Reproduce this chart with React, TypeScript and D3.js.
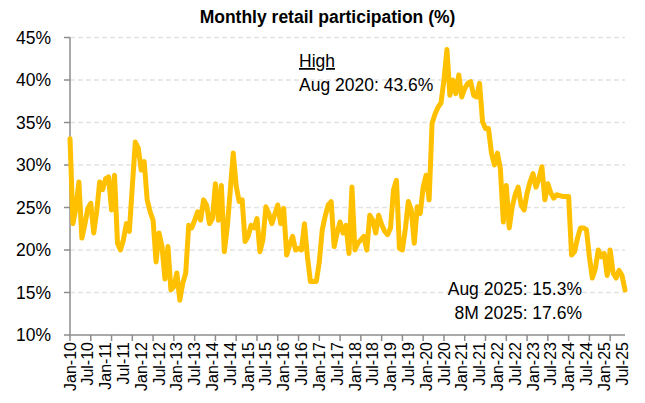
import React from "react";
import * as d3 from "d3";

// Monthly retail participation (%), Jan-2010 .. Aug-2025
const participation = [
  // 2010
  33.1, 23.1, 25.0, 28.0, 21.4, 23.0, 24.9, 25.5, 22.0, 24.5, 28.0, 27.1,
  // 2011
  28.4, 28.6, 24.7, 28.8, 20.8, 20.0, 21.2, 23.1, 22.2, 27.5, 32.7, 32.0,
  // 2012
  29.4, 30.4, 25.9, 24.5, 23.5, 18.6, 22.0, 20.4, 16.6, 20.4, 15.3, 15.7,
  // 2013
  17.3, 14.1, 16.1, 17.3, 22.9, 22.6, 23.5, 24.5, 23.5, 25.9, 25.3, 23.1,
  // 2014
  23.7, 27.8, 23.5, 27.6, 19.8, 22.7, 27.0, 31.4, 27.5, 25.7, 25.9, 21.0,
  // 2015
  21.6, 22.9, 22.6, 23.7, 19.8, 21.2, 25.1, 24.3, 23.1, 24.2, 25.3, 23.1,
  // 2016
  24.9, 19.4, 20.6, 21.6, 20.0, 20.2, 20.0, 23.1, 19.2, 16.3, 16.3, 16.3,
  // 2017
  18.6, 22.4, 24.0, 25.3, 25.7, 20.4, 22.0, 23.3, 22.0, 22.9, 19.6, 27.4,
  // 2018
  20.0, 20.8, 21.2, 21.6, 20.0, 24.1, 23.5, 22.0, 24.1, 23.0, 22.2, 21.8,
  // 2019
  22.6, 27.1, 28.2, 20.2, 20.0, 22.5, 25.7, 24.7, 20.8, 25.1, 24.3, 27.4,
  // 2020
  28.8, 25.9, 34.9, 36.0, 36.8, 37.3, 40.0, 43.6, 38.2, 40.0, 38.4, 40.6,
  // 2021
  38.0, 39.0, 39.6, 39.8, 38.2, 38.0, 39.6, 35.1, 34.3, 34.3, 31.4, 30.0,
  // 2022
  31.4, 29.6, 23.3, 27.6, 22.6, 25.1, 26.5, 27.4, 25.3, 24.7, 26.7, 28.0,
  // 2023
  29.0, 27.4, 28.4, 29.8, 25.9, 27.8, 26.7, 26.1, 26.5, 26.4, 26.3, 26.3,
  // 2024
  26.3, 19.4, 19.8, 21.4, 22.6, 22.6, 22.4, 19.2, 16.7, 17.8, 20.0, 19.2,
  // 2025
  19.6, 17.0, 20.0, 17.3, 16.7, 17.6, 17.0, 15.3,
];

const tickLabels = [
  "Jan-10", "Jul-10", "Jan-11", "Jul-11", "Jan-12", "Jul-12", "Jan-13", "Jul-13",
  "Jan-14", "Jul-14", "Jan-15", "Jul-15", "Jan-16", "Jul-16", "Jan-17", "Jul-17",
  "Jan-18", "Jul-18", "Jan-19", "Jul-19", "Jan-20", "Jul-20", "Jan-21", "Jul-21",
  "Jan-22", "Jul-22", "Jan-23", "Jul-23", "Jan-24", "Jul-24", "Jan-25", "Jul-25",
];

const yTicks = [10, 15, 20, 25, 30, 35, 40, 45];

const highLabel = ["High", "Aug 2020: 43.6%"];
const latestLabel = ["Aug 2025: 15.3%", "8M 2025: 17.6%"];

const font = "'Liberation Sans', Arial, sans-serif";
const axisColor = "#8c8c8c";

export default function App() {
  const width = 645;
  const height = 403;
  const left = 70;
  const right = 625;
  const top = 37.5;
  const bottom = 335;

  const x = d3
    .scaleLinear()
    .domain([0, participation.length - 1])
    .range([left, right]);
  const y = d3.scaleLinear().domain([10, 45]).range([bottom, top]);

  const line = d3
    .line<number>()
    .x((d, i) => x(i))
    .y((d) => y(d));

  // tick marks every 7 months, labels every 6 months
  const tickMarks = d3.range(0, participation.length, 7);

  return (
    <svg
      width={width}
      height={height}
      style={{ position: "fixed", left: 0, top: 0, background: "#fff" }}
      fontFamily={font}
    >
      <text
        x={327.5}
        y={23}
        textAnchor="middle"
        fontSize={17.5}
        fontWeight="bold"
      >
        Monthly retail participation (%)
      </text>

      {/* gridlines */}
      {yTicks.slice(1).map((t) => (
        <line
          key={"g" + t}
          x1={left}
          x2={right}
          y1={y(t)}
          y2={y(t)}
          stroke="#e3e3e3"
          strokeWidth={1.3}
          strokeDasharray="5 3"
        />
      ))}

      {/* y axis */}
      <line x1={left} x2={left} y1={top} y2={bottom} stroke={axisColor} strokeWidth={1.5} />
      {yTicks.map((t) => (
        <g key={"y" + t}>
          <line x1={left - 6} x2={left} y1={y(t)} y2={y(t)} stroke={axisColor} strokeWidth={1.5} />
          <text x={51} y={y(t)} dy="0.35em" textAnchor="end" fontSize={17.5}>
            {t}%
          </text>
        </g>
      ))}

      {/* x axis */}
      <line x1={left} x2={right} y1={bottom} y2={bottom} stroke={axisColor} strokeWidth={1.5} />
      {tickMarks.map((i) => (
        <line
          key={"t" + i}
          x1={x(i)}
          x2={x(i)}
          y1={bottom}
          y2={bottom + 6}
          stroke={axisColor}
          strokeWidth={1.5}
        />
      ))}
      {tickLabels.map((lab, k) => (
        <text
          key={lab}
          transform={`translate(${x(k * 6)},${bottom + 7}) rotate(-90)`}
          dy="0.35em"
          textAnchor="end"
          fontSize={16}
        >
          {lab}
        </text>
      ))}

      <path
        d={line(participation) ?? ""}
        fill="none"
        stroke="#FFC000"
        strokeWidth={5}
        strokeLinejoin="round"
        strokeLinecap="round"
      />

      {/* annotations */}
      <text x={299} y={67} fontSize={17.5} textDecoration="underline">
        {highLabel[0]}
      </text>
      <text x={299} y={91} fontSize={17.5}>
        {highLabel[1]}
      </text>
      <text x={582} y={295} fontSize={17.5} textAnchor="end">
        {latestLabel[0]}
      </text>
      <text x={582} y={318.5} fontSize={17.5} textAnchor="end">
        {latestLabel[1]}
      </text>
    </svg>
  );
}
